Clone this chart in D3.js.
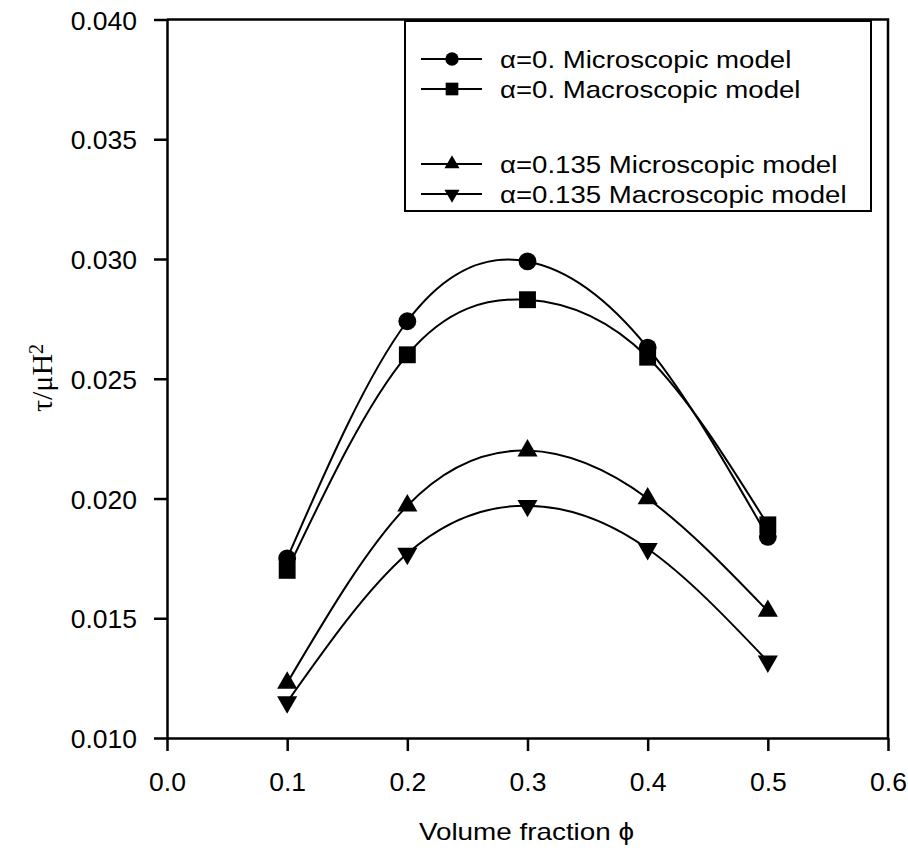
<!DOCTYPE html>
<html>
<head>
<meta charset="utf-8">
<script src="https://cdn.jsdelivr.net/npm/d3@7"></script>
<style>
  html, body { margin: 0; padding: 0; background: #fff; }
  svg { display: block; }
</style>
</head>
<body>
<svg id="chart" width="908" height="854"></svg>
<script>
// Shear stress vs. volume fraction for the two models
const phi = [0.1, 0.2, 0.3, 0.4, 0.5];
const microA0   = [0.0175, 0.0274, 0.0299, 0.0263, 0.0184];
const macroA0   = [0.0170, 0.0260, 0.0283, 0.0259, 0.0189];
const microA135 = [0.0123, 0.0197, 0.0220, 0.0200, 0.0153];
const macroA135 = [0.0115, 0.0177, 0.0197, 0.0179, 0.0132];
const seriesNames = [
  "\u03b1=0. Microscopic model",
  "\u03b1=0. Macroscopic model",
  "\u03b1=0.135 Microscopic model",
  "\u03b1=0.135 Macroscopic model"
];
const xTicks = [0.0, 0.1, 0.2, 0.3, 0.4, 0.5, 0.6];
const yTicks = [0.010, 0.015, 0.020, 0.025, 0.030, 0.035, 0.040];

const series = [
  { name: seriesNames[0], values: microA0,   shape: "circle" },
  { name: seriesNames[1], values: macroA0,   shape: "square" },
  { name: seriesNames[2], values: microA135, shape: "up" },
  { name: seriesNames[3], values: macroA135, shape: "down" }
];

const svg = d3.select("#chart");
const plotLeft = 167, plotRight = 888, plotTop = 19.5, plotBottom = 738;

const x = d3.scaleLinear().domain([0, 0.6]).range([plotLeft, plotRight]);
const y = d3.scaleLinear().domain([0.010, 0.040]).range([plotBottom, plotTop]);

const font = "'Liberation Sans', Arial, Helvetica, sans-serif";

// frame (top and right edges)
svg.append("path")
  .attr("d", `M${plotLeft},${plotTop}H${plotRight}V${plotBottom}`)
  .attr("fill", "none").attr("stroke", "#000").attr("stroke-width", 2.5);

// axes
const xAxis = d3.axisBottom(x).tickValues(xTicks).tickFormat(d3.format(".1f"))
  .tickSizeInner(13).tickSizeOuter(0).tickPadding(21);
const yAxis = d3.axisLeft(y).tickValues(yTicks).tickFormat(d3.format(".3f"))
  .tickSizeInner(13).tickSizeOuter(0).tickPadding(17);

const gx = svg.append("g").attr("transform", `translate(0,${plotBottom})`).call(xAxis);
const gy = svg.append("g").attr("transform", `translate(${plotLeft},0)`).call(yAxis);
[gx, gy].forEach(g => {
  g.select(".domain").attr("stroke", "#000").attr("stroke-width", 2.5);
  g.selectAll(".tick line").attr("stroke", "#000").attr("stroke-width", 2.5);
  g.selectAll(".tick text").attr("fill", "#000")
    .style("font-family", font).style("font-size", "26.5px");
});
gy.selectAll(".tick text").attr("dy", "0.36em");

// axis titles
svg.append("text")
  .attr("transform", `translate(${(plotLeft + plotRight) / 2 - 1},840) scale(1.16,1)`)
  .attr("text-anchor", "middle")
  .style("font-family", font).style("font-size", "24px")
  .text("Volume fraction \u03d5");

const yl = svg.append("text")
  .attr("transform", `translate(52,378) rotate(-90)`)
  .attr("text-anchor", "middle")
  .style("font-family", "'Liberation Serif', 'Times New Roman', serif")
  .style("font-size", "30px");
yl.append("tspan").text("\u03c4/\u03bcH");
yl.append("tspan").attr("dy", "-0.45em").style("font-size", "20px").text("2");

// markers
function marker(shape, scale) {
  const s = scale || 1;
  if (shape === "circle") return d3.symbol().type(d3.symbolCircle).size(250 * s * s)();
  if (shape === "square") return d3.symbol().type(d3.symbolSquare).size(285 * s * s)();
  return d3.symbol().type(d3.symbolTriangle).size(175 * s * s)();
}
function markerTransform(shape, cx, cy) {
  return shape === "down" ? `translate(${cx},${cy}) rotate(180)` : `translate(${cx},${cy})`;
}

const line = d3.line().curve(d3.curveNatural)
  .x((d, i) => x(phi[i])).y(d => y(d));

series.forEach(s => {
  svg.append("path")
    .attr("d", line(s.values))
    .attr("fill", "none").attr("stroke", "#000").attr("stroke-width", 2);
});
series.forEach(s => {
  svg.append("g").selectAll("path").data(s.values).join("path")
    .attr("d", marker(s.shape))
    .attr("transform", (d, i) => markerTransform(s.shape, x(phi[i]), y(d)))
    .attr("fill", "#000");
});

// legend
const lg = svg.append("g");
lg.append("rect")
  .attr("x", 405).attr("y", 21).attr("width", 466).attr("height", 190)
  .attr("fill", "#fff").attr("stroke", "#000").attr("stroke-width", 2);
const rowsY = [59, 89, 164, 194];
series.forEach((s, i) => {
  const ry = rowsY[i];
  lg.append("line").attr("x1", 421).attr("x2", 482).attr("y1", ry).attr("y2", ry)
    .attr("stroke", "#000").attr("stroke-width", 2);
  lg.append("path").attr("d", marker(s.shape, 0.75))
    .attr("transform", markerTransform(s.shape, 452, ry)).attr("fill", "#000");
  lg.append("text")
    .attr("transform", `translate(500,${ry}) scale(1.15,1)`)
    .attr("dy", "0.36em")
    .style("font-family", font).style("font-size", "24px")
    .text(s.name);
});
</script>
</body>
</html>
